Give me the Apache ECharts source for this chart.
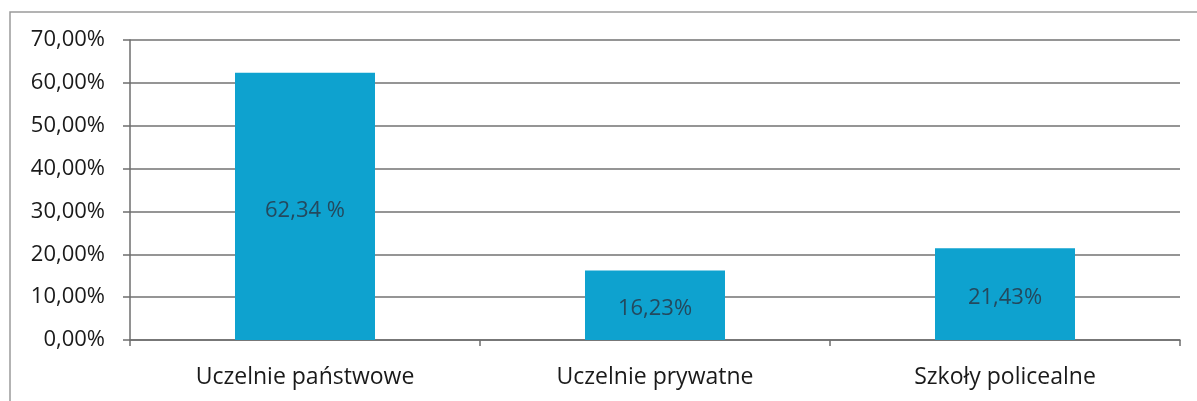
<!DOCTYPE html>
<html>
<head>
<meta charset="utf-8">
<script src="https://cdn.jsdelivr.net/npm/echarts@6/dist/echarts.min.js"></script>
<style>
html,body{margin:0;padding:0;background:#fff;}
#chart{width:1197px;height:401px;}
</style>
</head>
<body>
<div id="chart"></div>
<script>
const categories = ['Uczelnie państwowe', 'Uczelnie prywatne', 'Szkoły policealne'];
const values = [62.34, 16.23, 21.43];
const barLabels = ['62,34 %', '16,23%', '21,43%'];
const yMin = 0, yMax = 70, yStep = 10;

const chart = echarts.init(document.getElementById('chart'));
chart.setOption({
  animation: false,
  backgroundColor: '#fff',
  graphic: [{
    type: 'rect',
    shape: { x: 10, y: 12, width: 1300, height: 500 },
    style: { fill: 'none', stroke: '#9a9a9a', lineWidth: 1.5 },
    silent: true
  }],
  grid: { left: 130, right: 17, top: 40, bottom: 61 },
  xAxis: {
    type: 'category',
    data: categories,
    axisLine: { lineStyle: { color: '#6e6e6e', width: 1.5 } },
    axisTick: { show: true, length: 6, lineStyle: { color: '#6e6e6e', width: 1.5 } },
    axisLabel: { color: '#1a1a1a', fontFamily: 'Open Sans', fontWeight: 500, fontSize: 23, margin: 26 }
  },
  yAxis: {
    type: 'value',
    min: yMin, max: yMax, interval: yStep,
    axisLine: { show: true, lineStyle: { color: '#6e6e6e', width: 1.5 } },
    axisTick: { show: true, length: 7, lineStyle: { color: '#6e6e6e', width: 1.5 } },
    splitLine: { lineStyle: { color: '#727272', width: 1.5 } },
    axisLabel: {
      color: '#1a1a1a', fontFamily: 'Open Sans', fontWeight: 500, fontSize: 22, margin: 25,
      formatter: v => v.toFixed(2).replace('.', ',') + '%'
    }
  },
  series: [{
    type: 'bar',
    data: values,
    barWidth: '40%',
    itemStyle: { color: '#0ea2cf' },
    label: {
      show: true,
      position: 'inside',
      offset: [0, 4],
      color: '#24495e',
      fontFamily: 'Open Sans',
      fontWeight: 500,
      fontSize: 22,
      formatter: p => barLabels[p.dataIndex]
    }
  }]
});
</script>
</body>
</html>
